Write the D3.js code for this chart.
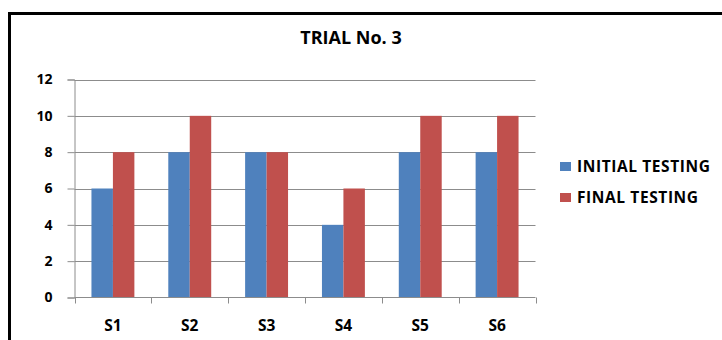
<!DOCTYPE html>
<html>
<head>
<meta charset="utf-8">
<script src="https://cdn.jsdelivr.net/npm/d3@7"></script>
<style>
  html, body { margin: 0; padding: 0; background: #fff; }
  svg { display: block; font-family: "Open Sans", "DejaVu Sans", sans-serif; font-weight: bold; }
</style>
</head>
<body>
<svg id="chart" width="722" height="340"></svg>
<script>
// Trial No. 3 scores per subject
const categories = ["S1", "S2", "S3", "S4", "S5", "S6"];
const initialTesting = [6, 8, 8, 4, 8, 8];
const finalTesting = [8, 10, 8, 6, 10, 10];
const seriesNames = ["INITIAL TESTING", "FINAL TESTING"];
const seriesColors = ["#4F81BD", "#C0504D"];
const yTicks = [0, 2, 4, 6, 8, 10, 12];

const svg = d3.select("#chart");

// frame around the chart
svg.append("path")
  .attr("d", "M9.5,340 L9.5,13.5 L722,13.5")
  .attr("fill", "none")
  .attr("stroke", "#000")
  .attr("stroke-width", 3);

const plot = { left: 74.5, right: 535.5, top: 79.5, bottom: 297.5 };

const x = d3.scaleBand().domain(categories).range([plot.left, plot.right]);
const inner = d3.scaleBand().domain(seriesNames).range([0, x.bandwidth()]).paddingInner(0).paddingOuter(0.79);
const y = d3.scaleLinear().domain([0, 12]).range([plot.bottom, plot.top]);

// horizontal gridlines
svg.append("g").selectAll("line")
  .data(yTicks.filter(d => d > 0))
  .join("line")
  .attr("x1", plot.left).attr("x2", plot.right)
  .attr("y1", d => Math.round(y(d)) + 0.5).attr("y2", d => Math.round(y(d)) + 0.5)
  .attr("stroke", "#8c8c8c").attr("stroke-width", 1);

// bars
const groups = svg.append("g").selectAll("g")
  .data(categories.map((c, i) => ({ c, vals: [initialTesting[i], finalTesting[i]] })))
  .join("g")
  .attr("transform", d => `translate(${x(d.c)},0)`);

groups.selectAll("rect")
  .data(d => d.vals.map((v, j) => ({ v, name: seriesNames[j], color: seriesColors[j] })))
  .join("rect")
  .attr("x", d => inner(d.name))
  .attr("width", inner.bandwidth())
  .attr("y", d => y(d.v))
  .attr("height", d => y(0) - y(d.v))
  .attr("fill", d => d.color);

// y axis
const yAxis = d3.axisLeft(y).tickValues(yTicks).tickSize(7).tickPadding(15);
const gy = svg.append("g").attr("transform", `translate(${plot.left},0)`).call(yAxis);
gy.select(".domain").attr("stroke", "#8c8c8c");
gy.selectAll(".tick line").attr("stroke", "#8c8c8c");
gy.selectAll(".tick text")
  .attr("font-family", "Open Sans, sans-serif")
  .attr("font-weight", "bold")
  .attr("font-size", 14)
  .attr("fill", "#000");

// x axis with boundary ticks between categories
const gx = svg.append("g").attr("transform", `translate(0,${plot.bottom})`);
gx.append("line")
  .attr("x1", plot.left).attr("x2", plot.right)
  .attr("stroke", "#8c8c8c");
const bounds = categories.map(c => x(c)).concat([x(categories[categories.length - 1]) + x.bandwidth()]);
gx.selectAll("line.b")
  .data(bounds)
  .join("line")
  .attr("class", "b")
  .attr("x1", d => Math.round(d) + 0.5).attr("x2", d => Math.round(d) + 0.5)
  .attr("y1", 0).attr("y2", 6)
  .attr("stroke", "#8c8c8c");
gx.selectAll("text")
  .data(categories)
  .join("text")
  .attr("x", d => x(d) + x.bandwidth() / 2)
  .attr("y", 33)
  .attr("text-anchor", "middle")
  .attr("font-size", 15.5)
  .attr("fill", "#000")
  .text(d => d);

// title
svg.append("text")
  .attr("x", 351).attr("y", 44)
  .attr("text-anchor", "middle")
  .attr("font-size", 18)
  .attr("fill", "#000")
  .text("TRIAL No. 3");

// legend
const legend = svg.append("g").attr("transform", "translate(560,162)");
const items = legend.selectAll("g")
  .data(seriesNames)
  .join("g")
  .attr("transform", (d, i) => `translate(0,${i * 31})`);
items.append("rect")
  .attr("x", 0).attr("y", 0).attr("width", 11).attr("height", 9)
  .attr("fill", (d, i) => seriesColors[i]);
items.append("text")
  .attr("x", 17).attr("y", 10)
  .attr("font-size", 15.5)
  .attr("letter-spacing", 0.6)
  .attr("fill", "#000")
  .text(d => d);
</script>
</body>
</html>
